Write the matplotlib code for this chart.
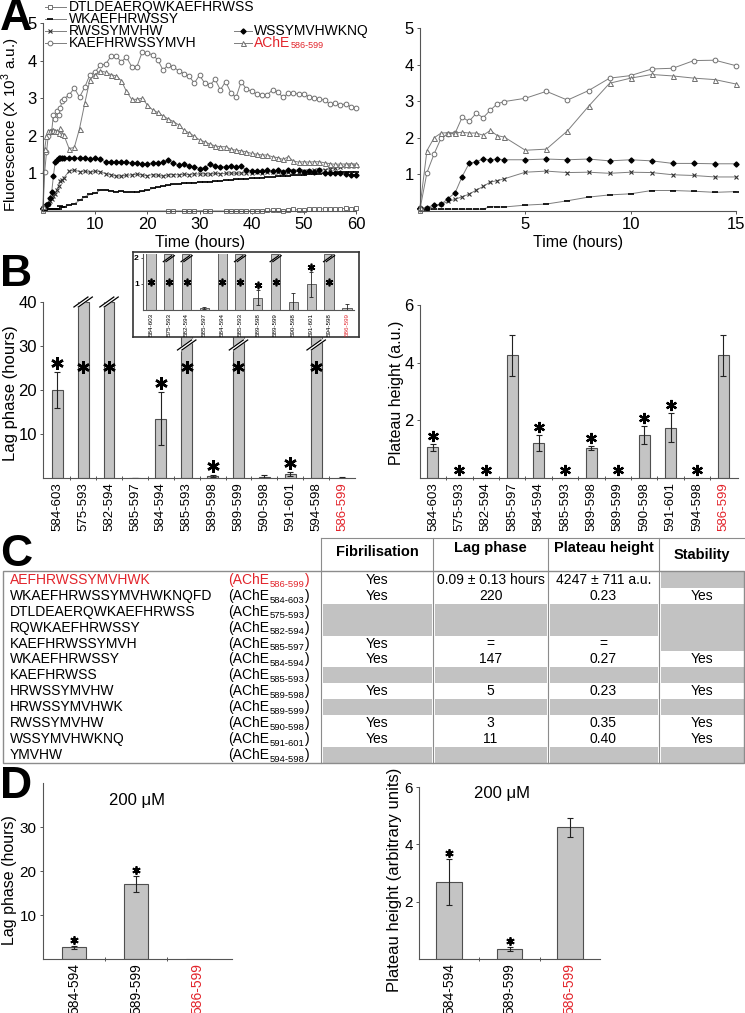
import numpy as np
import matplotlib
matplotlib.use("Agg")
import matplotlib.pyplot as plt
from matplotlib.lines import Line2D
from matplotlib.patches import Rectangle

W, H = 745, 1013
RED = "#e2242b"
BAR_FACE = "#c4c4c4"
BAR_EDGE = "#4f4f4f"
LINE_GREY = "#7d7d7d"
CELL_GREY = "#c2c2c2"
RULE_GREY = "#8c8c8c"
NARROW = ["Liberation Sans Narrow", "Liberation Sans", "DejaVu Sans"]

plt.rcParams["font.family"] = ["Liberation Sans", "DejaVu Sans"]
plt.rcParams["mathtext.fontset"] = "custom"
plt.rcParams["mathtext.rm"] = "Liberation Sans"

# ---------------- panel A: fluorescence kinetics ----------------
time_h = [0, 0.33, 0.67, 1, 1.33, 1.67, 2, 2.33, 2.67, 3, 3.33, 3.67, 4,
          5, 6, 7, 8, 9, 10, 11, 12, 13, 14, 15, 16, 17, 18, 19, 20,
          21, 22, 23, 24, 25, 26, 27, 28, 29, 30, 31, 32, 33, 34, 35, 36,
          37, 38, 39, 40, 41, 42, 43, 44, 45, 46, 47, 48, 49, 50, 51, 52,
          53, 54, 55, 56, 57, 58, 59, 60]

kaef_vals = [0.05, 1.05, 1.56, 1.99, 2.10, 2.13, 2.56, 2.45, 2.67, 2.55, 2.75, 2.93, 2.99,
             3.08, 3.27, 3.03, 3.29, 3.63, 3.70, 3.88, 3.90, 4.11, 4.12, 3.97,
             4.09, 3.84, 3.84, 4.22, 4.19, 4.16, 4.02, 3.75, 3.88, 3.83, 3.73, 3.65,
             3.59, 3.40, 3.61, 3.40, 3.35, 3.50, 3.22, 3.44, 3.15, 3.02, 3.44, 3.24,
             3.18, 3.11, 3.09, 3.09, 3.22, 3.17, 3.02, 3.13, 3.15, 3.10, 3.10, 3.04,
             3.00, 2.97, 2.95, 2.84, 2.86, 2.82, 2.85, 2.77, 2.75]
ache_vals = [0.12, 1.65, 2.00, 2.13, 2.14, 2.14, 2.15, 2.13, 2.13, 2.07, 2.20, 2.06, 2.02,
             1.66, 1.69, 2.19, 2.86, 3.49, 3.63, 3.73, 3.69, 3.63, 3.59, 3.47,
             3.18, 2.97, 2.97, 3.00, 2.82, 2.69, 2.62, 2.53, 2.45, 2.38, 2.29, 2.15,
             2.08, 1.99, 1.89, 1.84, 1.78, 1.73, 1.71, 1.71, 1.64, 1.62, 1.60, 1.57,
             1.53, 1.51, 1.49, 1.49, 1.44, 1.42, 1.37, 1.44, 1.33, 1.30, 1.31, 1.30,
             1.31, 1.31, 1.28, 1.26, 1.24, 1.25, 1.25, 1.26, 1.25]
wssy_vals = [0.09, 0.09, 0.17, 0.18, 0.34, 0.50, 0.94, 1.30, 1.35, 1.42, 1.40, 1.42, 1.40,
             1.40, 1.42, 1.40, 1.42, 1.37, 1.40, 1.37, 1.30, 1.30, 1.29, 1.29,
             1.30, 1.28, 1.27, 1.25, 1.25, 1.28, 1.27, 1.30, 1.35, 1.27, 1.22, 1.25,
             1.20, 1.18, 1.13, 1.15, 1.25, 1.20, 1.18, 1.17, 1.20, 1.17, 1.19, 1.08,
             1.07, 1.06, 1.06, 1.08, 1.06, 1.08, 1.05, 1.09, 1.06, 1.10, 1.05, 1.07,
             1.03, 1.08, 1.00, 1.02, 1.00, 1.01, 0.98, 0.97, 0.97]
rwss_vals = [0.07, 0.07, 0.12, 0.18, 0.26, 0.32, 0.39, 0.46, 0.57, 0.67, 0.79, 0.83, 0.88,
             1.06, 1.09, 1.05, 1.06, 1.03, 1.06, 1.05, 0.99, 0.97, 0.93, 0.93,
             0.95, 0.96, 0.98, 0.96, 0.94, 0.97, 0.95, 0.93, 0.96, 0.97, 0.96, 0.98,
             0.97, 0.99, 0.98, 0.99, 0.98, 1.00, 0.99, 1.00, 1.01, 1.00, 1.01, 1.02,
             1.01, 1.03, 1.02, 1.03, 1.04, 1.03, 1.05, 1.04, 1.06, 1.05, 1.07, 1.06,
             1.08, 1.09, 1.10, 1.12, 1.14, 1.17, 1.20, 1.19, 1.21]
wkae_vals = [0.05, 0.03, 0.05, 0.05, 0.05, 0.05, 0.05, 0.05, 0.05, 0.05, 0.12, 0.11, 0.11,
             0.16, 0.19, 0.28, 0.38, 0.44, 0.47, 0.56, 0.56, 0.54, 0.51, 0.53,
             0.50, 0.51, 0.50, 0.52, 0.55, 0.60, 0.63, 0.66, 0.68, 0.71, 0.72, 0.74,
             0.75, 0.75, 0.77, 0.78, 0.78, 0.79, 0.80, 0.82, 0.82, 0.84, 0.85, 0.86,
             0.87, 0.87, 0.89, 0.90, 0.90, 0.92, 0.93, 0.93, 0.95, 0.96, 0.96, 0.98,
             0.98, 0.99, 1.00, 1.01, 1.01, 1.03, 1.04, 1.04, 1.05]
dtld_time = [0, 24, 25, 27, 28, 29, 31, 32, 35, 36, 37, 38, 39, 40, 41, 42, 43, 44,
             45, 46, 47, 48, 49, 50, 51, 52, 53, 54, 55, 56, 57, 58, 59, 60]
dtld_vals = [0.0, 0.0, 0.0, 0.0, 0.0, 0.0, 0.01, 0.0, 0.0, 0.0, 0.01, 0.0, 0.01, 0.0,
             0.01, 0.0, 0.02, 0.03, 0.02, 0.01, 0.02, 0.04, 0.03, 0.03, 0.05, 0.04,
             0.05, 0.06, 0.05, 0.06, 0.06, 0.07, 0.06, 0.07]

# ---------------- panel B: lag phase / plateau ----------------
b_labels = ["584-603", "575-593", "582-594", "585-597", "584-594", "585-593",
            "589-598", "589-599", "590-598", "591-601", "594-598", "586-599"]
lag_mean = [20.0, np.nan, np.nan, 0.08, 13.5, np.nan, 0.47, np.nan, 0.30, 0.99, np.nan, 0.09]
lag_err = [4.0, 0, 0, 0.03, 6.0, 0, 0.29, 0, 0.36, 0.48, 0, 0.13]
lag_sig = [1, 1, 1, 0, 1, 1, 1, 1, 0, 1, 1, 0]
plateau_mean = [1.06, 0, 0, 4.25, 1.21, 0, 1.04, 0, 1.5, 1.75, 0, 4.25]
plateau_err = [0.12, 0, 0, 0.7, 0.27, 0, 0.06, 0, 0.32, 0.5, 0, 0.7]
plateau_sig = [1, 1, 1, 0, 1, 1, 1, 1, 1, 1, 1, 0]

# ---------------- panel C: summary table ----------------
tab_seq = ["AEFHRWSSYMVHWK", "WKAEFHRWSSYMVHWKNQFD", "DTLDEAERQWKAEFHRWSS", "RQWKAEFHRWSSY",
           "KAEFHRWSSYMVH", "WKAEFHRWSSY", "KAEFHRWSS", "HRWSSYMVHW", "HRWSSYMVHWK",
           "RWSSYMVHW", "WSSYMVHWKNQ", "YMVHW"]
tab_range = ["586-599", "584-603", "575-593", "582-594", "585-597", "584-594",
             "585-593", "589-598", "589-599", "590-598", "591-601", "594-598"]
tab_fib = ["Yes", "Yes", "", "", "Yes", "Yes", "", "Yes", "", "Yes", "Yes", ""]
tab_lag = ["0.09 ± 0.13 hours", "220", "", "", "=", "147", "", "5", "", "3", "11", ""]
tab_plateau = ["4247 ± 711 a.u.", "0.23", "", "", "=", "0.27", "", "0.23", "", "0.35", "0.40", ""]
tab_stab = ["", "Yes", "", "", "", "Yes", "", "Yes", "", "Yes", "Yes", ""]
tab_headers = ["Fibrilisation", "Lag phase", "Plateau height", "Stability"]

# ---------------- panel D: 200 uM ----------------
d_labels = ["584-594", "589-599", "586-599"]
d_lag = [2.7, 17.0, 0.0]
d_lag_err = [0.35, 1.8, 0]
d_lag_sig = [1, 1, 0]
d_plateau = [2.7, 0.35, 4.6]
d_plateau_err = [0.8, 0.06, 0.33]
d_plateau_sig = [1, 1, 0]


def frac_box(x0, y0, x1, y1):
    return [x0 / W, 1 - y1 / H, (x1 - x0) / W, (y1 - y0) / H]


def fpos(x, y):
    return x / W, 1 - y / H


def style_axis(ax, size):
    for side in ("top", "right"):
        ax.spines[side].set_visible(False)
    for side in ("left", "bottom"):
        ax.spines[side].set_color("#555555")
        ax.spines[side].set_linewidth(0.8)
    ax.tick_params(labelsize=size, length=2.5, width=0.7, pad=2, color="#555555")
    ax.set_facecolor("none")


def px_to_data(ax, dx_px, dy_px):
    (x0, y0), (x1, y1) = ax.transData.transform([(0, 0), (1, 1)])
    return dx_px / (x1 - x0), dy_px / (y1 - y0)


def category_ticks(ax, labels, size, red_last=True):
    pos = np.arange(len(labels))
    ax.set_xticks(pos, labels, rotation=90, fontsize=size)
    ax.set_xticks(pos[:-1] + 0.5, minor=True)
    ax.tick_params(axis="x", which="major", length=0, pad=3)
    ax.tick_params(axis="x", which="minor", length=3, direction="inout", width=0.7, color="#555555")
    if red_last:
        ax.get_xticklabels()[-1].set_color(RED)


def stars(ax, x, y, sig, size, mew):
    sig = np.asarray(sig, bool)
    ax.plot(np.asarray(x)[sig], np.asarray(y)[sig], linestyle="none", marker=(6, 2, 0),
            ms=size, mew=mew, color="black", clip_on=False, zorder=5)


def break_marks(ax, x, y, scale=1.0):
    sx, sy = px_to_data(ax, 1, 1)
    ax.plot([x - 7 * scale * sx, x + 7 * scale * sx], [y - 5 * scale * sy, y + 5 * scale * sy],
            color="white", lw=3 * scale, clip_on=False, zorder=4, solid_capstyle="butt")
    for off in (-2.2, 2.2):
        ax.plot([x + (off - 7) * scale * sx, x + (off + 7) * scale * sx],
                [y - 5 * scale * sy, y + 5 * scale * sy],
                color="black", lw=0.9, clip_on=False, zorder=4)


fig = plt.figure(figsize=(W / 100, H / 100), dpi=100)

# ================= A =================
ax_a1 = fig.add_axes(frac_box(43, 23, 356, 211))
ax_a2 = fig.add_axes(frac_box(420, 28, 736, 211))
for ax, tmax, ticks in ((ax_a1, 60, [10, 20, 30, 40, 50, 60]), (ax_a2, 15, [5, 10, 15])):
    ax.set_xlim(0, tmax)
    ax.set_ylim(0, 5)
    ax.set_xticks(ticks)
    ax.set_yticks([1, 2, 3, 4, 5])
    style_axis(ax, 12)

a_series = [
    ("DTLDEAERQWKAEFHRWSS", dtld_time, dtld_vals,
     dict(marker="s", mfc="white", mec="#6e6e6e", ms=3.2, mew=0.7)),
    ("WKAEFHRWSSY", time_h, wkae_vals, dict(marker="_", mec="black", ms=4, mew=1.2)),
    ("RWSSYMVHW", time_h, rwss_vals, dict(marker="x", mec="#333333", ms=3, mew=0.8)),
    ("KAEFHRWSSYMVH", time_h, kaef_vals,
     dict(marker="o", mfc="white", mec="#6e6e6e", ms=3.4, mew=0.7)),
    ("WSSYMVHWKNQ", time_h, wssy_vals, dict(marker="D", mfc="black", mec="black", ms=2.6)),
    ("AChE", time_h, ache_vals, dict(marker="^", mfc="white", mec="#6e6e6e", ms=3.6, mew=0.7)),
]
for name, t, v, style in a_series:
    t = np.asarray(t, float)
    v = np.asarray(v, float)
    ax_a1.plot(t, v, color=LINE_GREY, lw=0.7, clip_on=False, **style)
    keep = t <= 15
    ax_a2.plot(t[keep], v[keep], color=LINE_GREY, lw=0.7, clip_on=False, **style)

# legend (two columns, above the left plot)
legend_slots = [(45, 66, 50, 7, 69), (45, 66, 50, 19, 69), (45, 66, 50, 31, 69),
                (45, 66, 50, 43, 69), (234, 252, 243, 31, 254), (234, 252, 243, 43, 254)]
for (name, t, v, style), (lx0, lx1, mx, ly, tx) in zip(a_series, legend_slots):
    fy = 1 - ly / H
    fig.add_artist(Line2D([lx0 / W, lx1 / W], [fy, fy], color=LINE_GREY, lw=0.7,
                          transform=fig.transFigure))
    fig.add_artist(Line2D([mx / W], [fy], linestyle="none", transform=fig.transFigure, **style))
    color = RED if name == "AChE" else "black"
    txt = fig.text(tx / W, fy, name, fontsize=10, va="center", ha="left", color=color)
    if name == "AChE":
        ax_a1.annotate(b_labels[-1], xy=(1, 0), xycoords=txt, xytext=(0.3, 0),
                       textcoords="offset points", fontsize=6.5, color=RED,
                       ha="left", va="bottom", annotation_clip=False)

fig.text(*fpos(200, 242), "Time (hours)", fontsize=11.5, ha="center", va="center")
fig.text(*fpos(578, 243), "Time (hours)", fontsize=11.5, ha="center", va="center")
fig.text(*fpos(11, 125), "Fluorescence (X 10$^{\\mathregular{3}}$ a.u.)", fontsize=11,
         rotation=90, ha="center", va="center")

# ================= B =================
xb = np.arange(len(b_labels))
lag_arr = np.asarray(lag_mean, float)
lag_e = np.asarray(lag_err, float)
no_fib = np.isnan(lag_arr)

ax_b1 = fig.add_axes(frac_box(43, 302, 355, 478))
ax_b1.set_xlim(-0.55, 11.5)
ax_b1.set_ylim(0, 40)
ax_b1.set_yticks([10, 20, 30, 40])
style_axis(ax_b1, 12)
category_ticks(ax_b1, b_labels, 9.5)
ax_b1.bar(xb, np.where(no_fib, 40, lag_arr), width=0.42, color=BAR_FACE,
          edgecolor=BAR_EDGE, lw=0.8)
ok = ~no_fib
ax_b1.errorbar(xb[ok], lag_arr[ok], yerr=lag_e[ok], fmt="none", ecolor="#222222",
               elinewidth=0.8, capsize=2.5, capthick=0.8)
_, dy = px_to_data(ax_b1, 0, 9)
stars(ax_b1, xb, np.where(no_fib, 25.3, lag_arr + lag_e + dy), lag_sig, 9, 1.8)

INSET_BOX = (133, 252, 359, 337)
floor_val = ax_b1.transData.inverted().transform((0, H - 345))[1]
for x in xb[no_fib]:
    xpx = ax_b1.transData.transform((x, 0))[0]
    under = INSET_BOX[0] - 5 < xpx < INSET_BOX[2] + 5
    break_marks(ax_b1, x, floor_val if under else 40)
fig.text(*fpos(11, 393), "Lag phase (hours)", fontsize=12, rotation=90, ha="center", va="center")

# inset: zoom on 0-2 hours
ax_box = fig.add_axes(frac_box(*INSET_BOX))
ax_box.set_xticks([])
ax_box.set_yticks([])
ax_box.set_facecolor("white")
for s in ax_box.spines.values():
    s.set_color("#333333")
    s.set_linewidth(1.2)

ax_in = fig.add_axes(frac_box(143, 254, 354, 310))
ax_in.set_xlim(-0.45, 11.4)
ax_in.set_ylim(0, 2.15)
style_axis(ax_in, 6)
ax_in.set_yticks([1, 2], ["1", "2"], fontweight="bold")
ax_in.tick_params(axis="y", length=1.5, pad=1.5)
ax_in.set_xticks(xb, b_labels, rotation=90, fontsize=4.5)
ax_in.tick_params(axis="x", length=0, pad=2)
ax_in.get_xticklabels()[-1].set_color(RED)
ax_in.bar(xb, np.where(no_fib, 2.15, lag_arr), width=0.52, color=BAR_FACE,
          edgecolor=BAR_EDGE, lw=0.6)
small = ok & (lag_arr < 2)
ax_in.errorbar(xb[small], lag_arr[small], yerr=lag_e[small], fmt="none", ecolor="#222222",
               elinewidth=0.6, capsize=1.5, capthick=0.6)
_, dyi = px_to_data(ax_in, 0, 5)
big = no_fib | (lag_arr > 2)
stars(ax_in, xb, np.where(big, 1.07, lag_arr + lag_e + dyi), lag_sig, 5.5, 1.2)
for x in xb[no_fib]:
    break_marks(ax_in, x, 1.97, scale=0.6)

ax_b2 = fig.add_axes(frac_box(420, 305, 738, 478))
ax_b2.set_xlim(-0.49, 11.55)
ax_b2.set_ylim(0, 6)
ax_b2.set_yticks([2, 4, 6])
style_axis(ax_b2, 12)
category_ticks(ax_b2, b_labels, 9.5)
pm = np.asarray(plateau_mean, float)
pe = np.asarray(plateau_err, float)
ax_b2.bar(xb, pm, width=0.42, color=BAR_FACE, edgecolor=BAR_EDGE, lw=0.8)
has_e = pe > 0
ax_b2.errorbar(xb[has_e], pm[has_e], yerr=pe[has_e], fmt="none", ecolor="#222222",
               elinewidth=0.8, capsize=2.5, capthick=0.8)
_, dy2 = px_to_data(ax_b2, 0, 8)
stars(ax_b2, xb, pm + pe + dy2, plateau_sig, 8, 1.6)
fig.text(*fpos(396, 393), "Plateau height (a.u.)", fontsize=11.5, rotation=90,
         ha="center", va="center")

# ================= C =================
ax_c = fig.add_axes(frac_box(0, 530, 745, 770))
ax_c.set_xlim(0, 745)
ax_c.set_ylim(770, 530)
ax_c.axis("off")

col_edges = [321, 433, 548, 659, 745]
row_h = 15.9
body_top = 572
n_rows = len(tab_seq)
body_bot = body_top + n_rows * row_h

for i in range(n_rows):
    top = body_top + i * row_h
    grey_cols = []
    if tab_fib[i] == "":
        grey_cols = [0, 1, 2, 3]
    elif tab_stab[i] == "":
        grey_cols = [3]
    for c in grey_cols:
        ax_c.add_patch(Rectangle((col_edges[c] + 1.5, top), col_edges[c + 1] - col_edges[c] - 3,
                                 row_h, facecolor=CELL_GREY, edgecolor="none", zorder=1))

ax_c.add_patch(Rectangle((3, body_top - 1), 744 - 3, body_bot - body_top + 1, fill=False,
                         edgecolor=RULE_GREY, lw=1.0, zorder=3))
for xe in col_edges[:-1]:
    ax_c.plot([xe, xe], [538, body_bot], color=RULE_GREY, lw=0.8, zorder=3)
ax_c.plot([col_edges[0], 745], [538, 538], color=RULE_GREY, lw=0.8, zorder=3)

header_y = [552, 548, 548, 555]
for c, (name, hy) in enumerate(zip(tab_headers, header_y)):
    ax_c.text((col_edges[c] + col_edges[c + 1]) / 2, hy, name, family=NARROW, fontweight="bold",
              fontsize=10.5, ha="center", va="center")

for i in range(n_rows):
    yc = body_top + (i + 0.5) * row_h
    color = RED if i == 0 else "black"
    ax_c.text(10, yc, tab_seq[i], fontsize=10, ha="left", va="center", color=color)
    t1 = ax_c.text(228, yc, "(AChE", fontsize=10, ha="left", va="center", color=color)
    t2 = ax_c.annotate(tab_range[i], xy=(1, 0), xycoords=t1, xytext=(0.3, -1.2),
                       textcoords="offset points", fontsize=6.8, color=color,
                       ha="left", va="bottom", annotation_clip=False)
    ax_c.annotate(")", xy=(1, 0), xycoords=(t2, t1), xytext=(0.3, 0),
                  textcoords="offset points", fontsize=10, color=color,
                  ha="left", va="bottom", annotation_clip=False)
    for c, col in enumerate((tab_fib, tab_lag, tab_plateau, tab_stab)):
        if col[i]:
            ax_c.text((col_edges[c] + col_edges[c + 1]) / 2, yc, col[i], fontsize=10,
                      ha="center", va="center")

# ================= D =================
xd = np.arange(len(d_labels))
ax_d1 = fig.add_axes(frac_box(43, 783, 232, 959))
ax_d1.set_xlim(-0.5, 2.55)
ax_d1.set_ylim(0, 40)
ax_d1.set_yticks([10, 20, 30])
style_axis(ax_d1, 11)
category_ticks(ax_d1, d_labels, 10)
dl = np.asarray(d_lag, float)
dle = np.asarray(d_lag_err, float)
ax_d1.bar(xd, dl, width=0.4, color=BAR_FACE, edgecolor=BAR_EDGE, lw=0.8)
ax_d1.errorbar(xd[dle > 0], dl[dle > 0], yerr=dle[dle > 0], fmt="none", ecolor="#222222",
               elinewidth=0.8, capsize=2.5, capthick=0.8)
_, dyd = px_to_data(ax_d1, 0, 6)
stars(ax_d1, xd, dl + dle + dyd, d_lag_sig, 6, 1.3)
fig.text(*fpos(137, 800), "200 μM", fontsize=12, ha="center", va="center")
fig.text(*fpos(10, 880), "Lag phase (hours)", fontsize=11.5, rotation=90, ha="center", va="center")

ax_d2 = fig.add_axes(frac_box(419, 787, 600, 959))
ax_d2.set_xlim(-0.5, 2.5)
ax_d2.set_ylim(0, 6)
ax_d2.set_yticks([2, 4, 6])
style_axis(ax_d2, 11)
category_ticks(ax_d2, d_labels, 10)
dp = np.asarray(d_plateau, float)
dpe = np.asarray(d_plateau_err, float)
ax_d2.bar(xd, dp, width=0.42, color=BAR_FACE, edgecolor=BAR_EDGE, lw=0.8)
ax_d2.errorbar(xd, dp, yerr=dpe, fmt="none", ecolor="#222222",
               elinewidth=0.8, capsize=2.5, capthick=0.8)
_, dyd2 = px_to_data(ax_d2, 0, 6)
stars(ax_d2, xd, dp + dpe + dyd2, d_plateau_sig, 6, 1.3)
fig.text(*fpos(502, 793), "200 μM", fontsize=12, ha="center", va="center")
fig.text(*fpos(394, 880), "Plateau height (arbitrary units)", fontsize=12, rotation=90,
         ha="center", va="center")

# panel letters
for letter, (lx, ly) in zip("ABCD", [(0, 19), (0, 274), (0, 555), (0, 786)]):
    fig.text(*fpos(lx, ly), letter, family=NARROW, fontweight="bold", fontsize=32,
             ha="left", va="center")

fig.savefig("out.png", dpi=100)
